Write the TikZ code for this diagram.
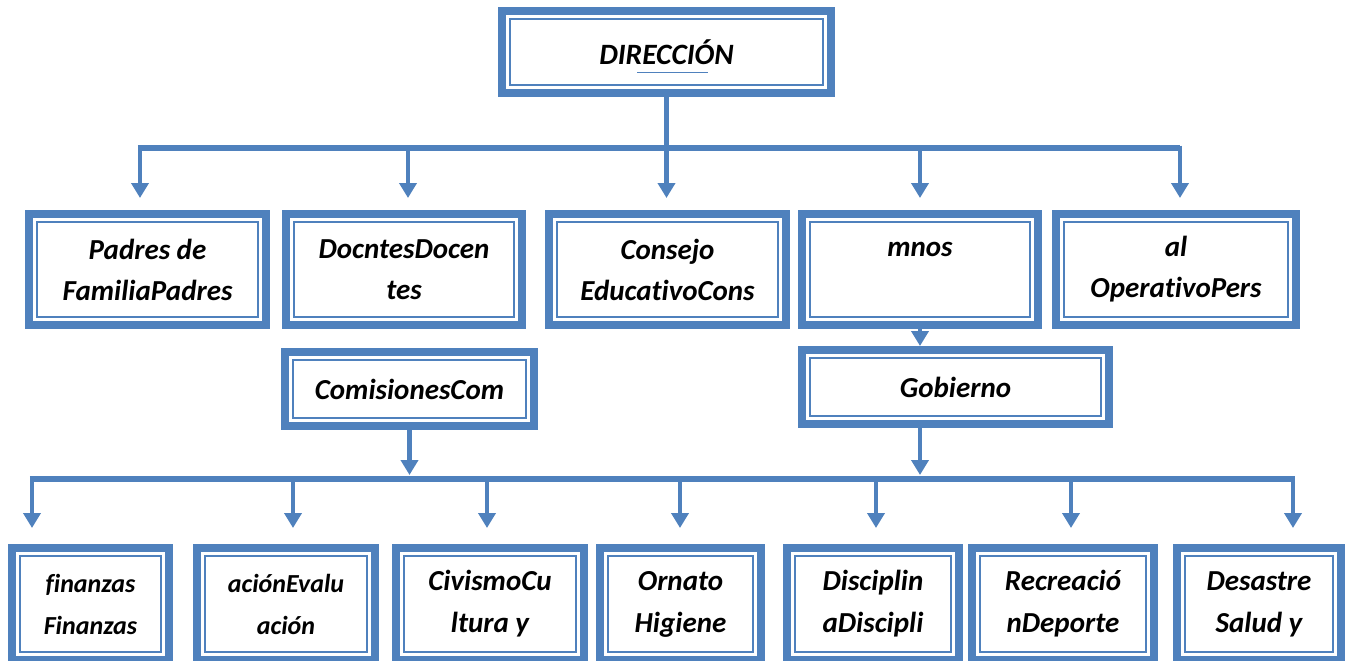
\documentclass[tikz,border=0pt]{standalone}
\usepackage{fontspec}
\setmainfont{Carlito}[Ligatures=NoCommon]
\usetikzlibrary{arrows.meta}
\definecolor{blu}{HTML}{4F81BD}
\tikzset{
 box/.style={draw=blu, line width=8pt, outer sep=4pt, inner sep=0pt, fill=white, rectangle, align=center, font=\bfseries\itshape\fontsize{29}{41}\selectfont},
 inbox/.style={draw=blu, line width=2pt},
 barln/.style={draw=blu, line width=5.5pt},
 arr/.style={draw=blu, line width=4.5pt, -{Triangle[width=17pt,length=15pt]}},
}
\newcommand\obox[7][]{%
 \node[box,#1, minimum width={#5-#3-8}, minimum height={#6-#4-8}] (#2) at ({(#3+#5)/2},{-(#4+#6)/2}) {#7};
 \draw[inbox] ([shift={(12,-12)}]#2.north west) rectangle ([shift={(-12,12)}]#2.south east);
}
\begin{document}
\begin{tikzpicture}[x=1pt,y=1pt]
\useasboundingbox (0,0) rectangle (1347,-661);
\clip (0,0) rectangle (1347,-661);
% top
\obox[font=\bfseries\itshape\fontsize{29.5}{41}\selectfont]{dir}{498}{7}{835}{97}{DIRECCIÓN}
\draw[blu, line width=1pt] (637,-73) -- (708,-73);
% second row
\obox{padres}{25}{210}{270}{329}{Padres de\\FamiliaPadres}
\obox{docentes}{282}{210}{526}{329}{DocntesDocen\\tes}
\obox{consejo}{545}{210}{790}{329}{Consejo\\Educat\kern0pt ivoCons}
\obox{mnos}{798}{210}{1042}{329}{mnos\\~}
\obox{personal}{1052}{210}{1300}{329}{al\\Operat\kern0pt ivoPers}
% third row
\obox{com}{281}{348}{538}{430}{ComisionesCom}
\obox{gob}{798}{346}{1113}{428}{Gobierno}
% bottom row
\obox[font=\bfseries\itshape\fontsize{26}{42}\selectfont]{fin}{8}{544}{173}{664}{f\kern0pt inanzas\\F\kern0pt inanzas}
\obox[font=\bfseries\itshape\fontsize{26}{42}\selectfont]{eva}{193}{544}{379}{664}{aciónEvalu\\ación}
\obox[font=\bfseries\itshape\fontsize{29}{42}\selectfont]{civ}{392}{544}{588}{664}{CivismoCu\\ltura y}
\obox[font=\bfseries\itshape\fontsize{29}{42}\selectfont]{orn}{596}{544}{765}{664}{Ornato\\Higiene}
\obox[font=\bfseries\itshape\fontsize{29}{42}\selectfont]{dis}{783}{544}{963}{664}{Disciplin\\aDiscipli}
\obox[font=\bfseries\itshape\fontsize{29}{42}\selectfont]{rec}{968}{544}{1158}{664}{Recreació\\nDeporte}
\obox[font=\bfseries\itshape\fontsize{29}{42}\selectfont]{des}{1173}{544}{1345}{664}{Desastre\\Salud y}
% top bar
\coordinate (tL) at (140,-148);
\coordinate (tR) at (1180,-148);
\draw[barln] ([xshift=-2.25pt]tL) -- (tR);
\draw[arr, shorten >=12pt] (dir.south) -- (dir.south |- consejo.north);
\draw[arr, shorten >=12pt] ([yshift=2.5pt]tL) -- (tL |- padres.north);
\draw[arr, shorten >=12pt] (408,-148) -- (408,-210);
\draw[arr, shorten >=12pt] (mnos.north |- tL) -- (mnos.north);
\draw[arr, shorten >=12pt] ([yshift=2.5pt]tR) -- (tR |- personal.north);
% mnos -> gobierno
\draw[arr] (mnos.south) -- (mnos.south |- gob.north);
% bottom bar
\coordinate (bL) at (32,-479);
\coordinate (bR) at (1293,-479);
\draw[barln] ([xshift=-2.25pt]bL) -- ([xshift=2.25pt]bR);
\draw[arr, shorten >=4pt] (com.south) -- (com.south |- bL);
\draw[arr, shorten >=4pt] (gob.south -| mnos.south) -- (mnos.south |- bL);
\draw[arr, shorten >=16pt] ([yshift=2.5pt]bL) -- (bL |- fin.north);
\draw[arr, shorten >=16pt] (293,-479) -- (293,-544);
\draw[arr, shorten >=16pt] (487,-479) -- (487,-544);
\draw[arr, shorten >=16pt] (680,-479) -- (680,-544);
\draw[arr, shorten >=16pt] (876,-479) -- (876,-544);
\draw[arr, shorten >=16pt] (1071,-479) -- (1071,-544);
\draw[arr, shorten >=16pt] ([yshift=2.5pt]bR) -- (bR |- des.north);
\end{tikzpicture}
\end{document}
